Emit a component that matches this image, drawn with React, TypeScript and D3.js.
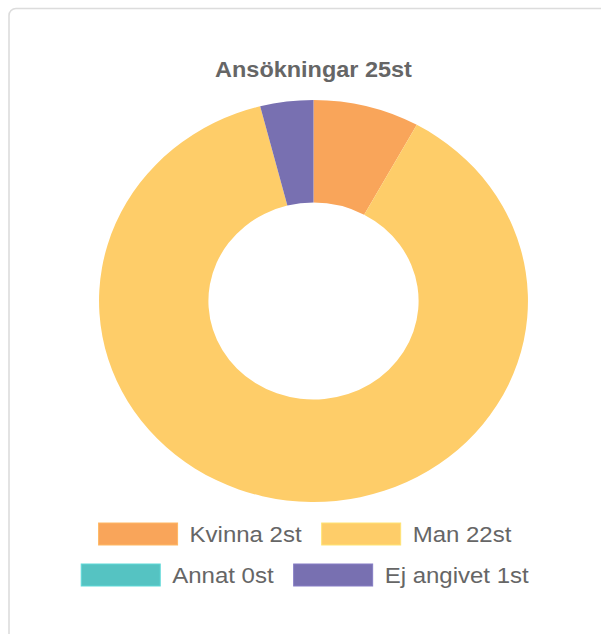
import React, { useMemo } from "react";
import * as d3 from "d3";

const categories = ["Kvinna", "Man", "Annat", "Ej angivet"];
const counts = [2, 22, 0, 1];
const colors = ["#F9A55A", "#FECD69", "#55C3C2", "#7870B1"];
const titleText = "Ansökningar";

const W = 601;
const H = 634;
const SX = 1.067;
const FONT = "'Liberation Sans', Arial, Helvetica, sans-serif";

function measure(text: string, font: string): number {
  const c = document.createElement("canvas");
  const ctx = c.getContext("2d");
  if (!ctx) return text.length * 10;
  ctx.font = font;
  return ctx.measureText(text).width;
}

export default function App() {
  const total = d3.sum(counts);
  const cx = 313.5;
  const cy = 301;
  const ry = 201;
  const inner = ry * 0.49;

  const pie = d3
    .pie<number>()
    .sort(null)
    .value((d) => d)
    .startAngle(0)
    .endAngle(2 * Math.PI);
  const arcs = pie(counts);
  const arcGen = d3.arc<d3.PieArcDatum<number>>().innerRadius(inner).outerRadius(ry);

  const labels = categories.map((c, i) => `${c} ${counts[i]}st`);
  const legendFontSize = 22.5;
  const boxW = 79;
  const boxH = 22;
  const gap = 12;
  const pad = 20;
  const rows = [
    [0, 1],
    [2, 3],
  ];
  const rowY = [523, 564];
  const legendCenter = 305;

  const legend = useMemo(() => {
    const font = `${legendFontSize}px ${FONT}`;
    return rows.map((row, ri) => {
      const widths = row.map((i) => boxW + gap + measure(labels[i], font) * SX);
      const totalW = d3.sum(widths) + pad * (row.length - 1);
      let x = legendCenter - totalW / 2;
      return row.map((i, k) => {
        const item = { i, x, y: rowY[ri] };
        x += widths[k] + pad;
        return item;
      });
    });
  }, []);

  return (
    <svg
      width={W}
      height={H}
      style={{ position: "absolute", left: 0, top: 0, background: "#fff" }}
      fontFamily={FONT}
    >
      <rect
        x={9}
        y={8.5}
        width={W + 40}
        height={H + 40}
        rx={7}
        ry={7}
        fill="#fff"
        stroke="#dcdcdc"
        strokeWidth={1.6}
      />
      <text
        transform={`translate(${cx},77) scale(${SX},1)`}
        textAnchor="middle"
        fontSize={22}
        fontWeight="bold"
        fill="#666"
      >
        {`${titleText} ${total}st`}
      </text>
      <g transform={`translate(${cx},${cy}) scale(${SX},1)`}>
        {arcs.map((a, i) =>
          a.endAngle > a.startAngle ? (
            <path key={i} d={arcGen(a) || ""} fill={colors[i]} />
          ) : null
        )}
      </g>
      {legend.flat().map(({ i, x, y }) => (
        <g key={i}>
          <rect
            x={x}
            y={y}
            width={boxW}
            height={boxH}
            fill={colors[i]}
            stroke={d3.color(colors[i])?.brighter(0.3).toString()}
            strokeWidth={1}
          />
          <text
            transform={`translate(${x + boxW + gap},${y + boxH / 2 + 8}) scale(${SX},1)`}
            fontSize={legendFontSize}
            fill="#666"
          >
            {labels[i]}
          </text>
        </g>
      ))}
    </svg>
  );
}
